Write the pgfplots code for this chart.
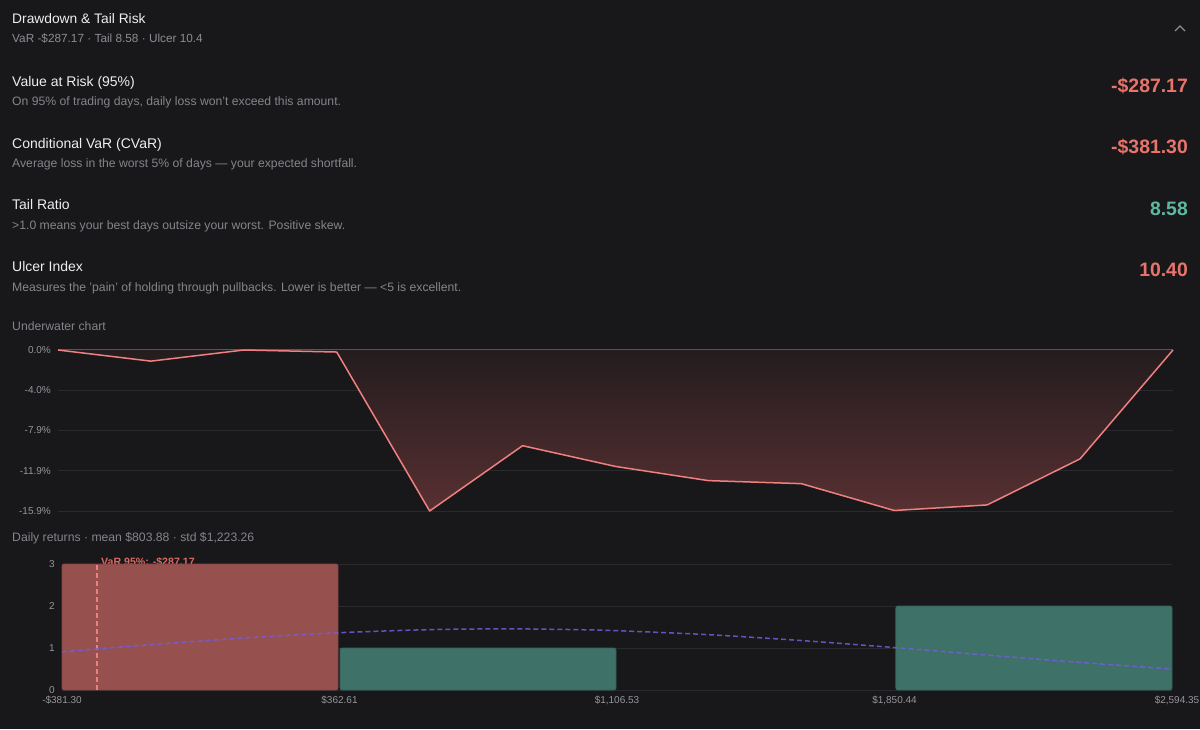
\documentclass[border=0pt]{standalone}
\usepackage{pgfplots}
\pgfplotsset{compat=1.18}
\usepackage{fontspec}
\setmainfont{Liberation Sans}
\definecolor{bg}{RGB}{24,24,27}
\definecolor{titlec}{RGB}{238,238,242}
\definecolor{subc}{RGB}{140,140,146}
\definecolor{descc}{RGB}{132,132,138}
\definecolor{redv}{RGB}{232,116,108}
\definecolor{tealv}{RGB}{94,184,160}
\definecolor{gridc}{RGB}{42,42,46}
\definecolor{zeroc}{RGB}{85,85,90}
\definecolor{tickc}{RGB}{150,150,155}
\definecolor{linec}{RGB}{240,128,128}
\definecolor{filltop}{RGB}{36,28,30}
\definecolor{fillbot}{RGB}{88,48,50}
\definecolor{barred}{RGB}{150,80,78}
\definecolor{barredd}{RGB}{130,70,68}
\definecolor{bargreen}{RGB}{62,113,104}
\definecolor{bargreend}{RGB}{52,98,90}
\definecolor{normc}{RGB}{118,92,222}
\definecolor{varlab}{RGB}{220,105,100}
\newcommand{\fs}[1]{\fontsize{#1}{#1}\selectfont}
\begin{document}
\begin{tikzpicture}[x=1pt,y=1pt]
\useasboundingbox (0,0) rectangle (1200,729);
\fill[bg] (0,0) rectangle (1200,729);
\clip (0,0) rectangle (1200,729);
% header
\node[anchor=base west, inner sep=0, text=titlec] at (12,705) {\fs{13.8}Drawdown \& Tail Risk};
\node[anchor=base west, inner sep=0, text=subc] at (12,686) {\fs{11.8}VaR -\$287.17 · Tail 8.58 · Ulcer 10.4};
\draw[subc, line width=1.2pt] (1175,698) -- (1180,703) -- (1185,698);
% metrics
\node[anchor=base west, inner sep=0, text=titlec] at (12,642.5) {\fs{14}Value at Risk (95\%)};
\node[anchor=base west, inner sep=0, text=descc] at (12,623) {\fs{12.2}On 95\% of trading days, daily loss won't exceed this amount.};
\node[anchor=base east, inner sep=0, text=redv] at (1188,636.3) {\fs{19.4}\bfseries -\$287.17};
\node[anchor=base west, inner sep=0, text=titlec] at (12,580.7) {\fs{14}Conditional VaR (CVaR)};
\node[anchor=base west, inner sep=0, text=descc] at (12,561) {\fs{12.2}Average loss in the worst 5\% of days — your expected shortfall.};
\node[anchor=base east, inner sep=0, text=redv] at (1188,575) {\fs{19.4}\bfseries -\$381.30};
\node[anchor=base west, inner sep=0, text=titlec] at (12,519) {\fs{14}Tail Ratio};
\node[anchor=base west, inner sep=0, text=descc] at (12,499) {\fs{12.2}>1.0 means your best days outsize your worst. Positive skew.};
\node[anchor=base east, inner sep=0, text=tealv] at (1188,513.3) {\fs{19.4}\bfseries 8.58};
\node[anchor=base west, inner sep=0, text=titlec] at (12,457.3) {\fs{14}Ulcer Index};
\node[anchor=base west, inner sep=0, text=descc] at (12,437.3) {\fs{12.2}Measures the 'pain' of holding through pullbacks. Lower is better — <5 is excellent.};
\node[anchor=base east, inner sep=0, text=redv] at (1188,452) {\fs{19.4}\bfseries 10.40};
\node[anchor=base west, inner sep=0, text=descc] at (12,398) {\fs{12.2}Underwater chart};
\node[anchor=base west, inner sep=0, text=descc] at (12,187) {\fs{12.2}Daily returns · mean \$803.88 · std \$1,223.26};
% underwater chart
\begin{axis}[at={(58pt,218pt)}, anchor=south west, scale only axis,
  width=1115pt, height=161pt, xmin=0, xmax=12, ymin=-15.9, ymax=0, clip=false,
  axis line style={draw=none}, xtick=\empty,
  ytick={0,-3.975,-7.95,-11.925,-15.9},
  yticklabels={0.0\%,-4.0\%,-7.9\%,-11.9\%,-15.9\%},
  ymajorgrids, grid style={gridc, line width=0.8pt}, major tick length=0pt,
  yticklabel style={font=\fs{10}, text=tickc, inner sep=0pt, xshift=-7pt},
  /pgf/number format/assume math mode=true]
\addplot[draw=none, top color=filltop, bottom color=fillbot] coordinates {
(0,0) (1,-1.1) (2,0) (3,-0.2) (4,-15.9) (5,-9.45) (6,-11.5) (7,-12.9) (8,-13.2) (9,-15.85) (10,-15.3) (11,-10.75) (12,0)} \closedcycle;
\addplot[zeroc, line width=1pt] coordinates {(0,0) (12,0)};
\addplot[linec, line width=1.5pt, line join=round] coordinates {
(0,0) (1,-1.1) (2,0) (3,-0.2) (4,-15.9) (5,-9.45) (6,-11.5) (7,-12.9) (8,-13.2) (9,-15.85) (10,-15.3) (11,-10.75) (12,0)};
\end{axis}
% histogram
\begin{axis}[at={(62pt,39pt)}, anchor=south west, scale only axis,
  width=1110pt, height=126pt, xmin=-381.30, xmax=2594.35, ymin=0, ymax=3, clip=false,
  axis line style={draw=none},
  xtick={-381.30,362.61,1106.53,1850.44,2594.35},
  xticklabels={-\$381.30,\$362.61,\$1{,}106.53,\$1{,}850.44,\hspace*{10pt}\$2{,}594.35},
  ytick={0,1,2,3},
  ymajorgrids, grid style={gridc, line width=0.8pt}, major tick length=0pt,
  yticklabel style={font=\fs{10}, text=tickc, inner sep=0pt, xshift=-7pt},
  xticklabel style={font=\fs{10}, text=tickc, inner sep=0pt, yshift=-6pt},
  /pgf/number format/assume math mode=true]
\node[anchor=base west, inner sep=0, text=varlab, font=\fs{10.6}\bfseries] at (axis cs:-276.8,2.976) {VaR 95\%: -\$287.17};
\addplot[fill=barred, draw=barredd, line width=0.8pt, rounded corners=2pt] coordinates {(-381.30,0) (-381.30,3) (358.6,3) (358.6,0)} -- cycle;
\addplot[fill=bargreen, draw=bargreend, line width=0.8pt, rounded corners=2pt] coordinates {(364.0,0) (364.0,1) (1103.9,1) (1103.9,0)} -- cycle;
\addplot[fill=bargreen, draw=bargreend, line width=0.8pt, rounded corners=2pt] coordinates {(1854.0,0) (1854.0,2) (2594.35,2) (2594.35,0)} -- cycle;
\addplot[linec, line width=1.5pt, dash pattern=on 5pt off 3pt] coordinates {(-287.17,0) (-287.17,3)};
\addplot[normc, opacity=0.85, line width=1.5pt, dash pattern=on 5pt off 3pt, smooth] coordinates {
(-381.30,0.910) (-131.3,1.087) (118.7,1.244) (362.61,1.364) (600,1.436) (803.88,1.456) (1000,1.437) (1106.53,1.412) (1350,1.318) (1600,1.178) (1850.44,1.010) (2100,0.830) (2350,0.655) (2594.35,0.499)};
\end{axis}
\end{tikzpicture}
\end{document}
